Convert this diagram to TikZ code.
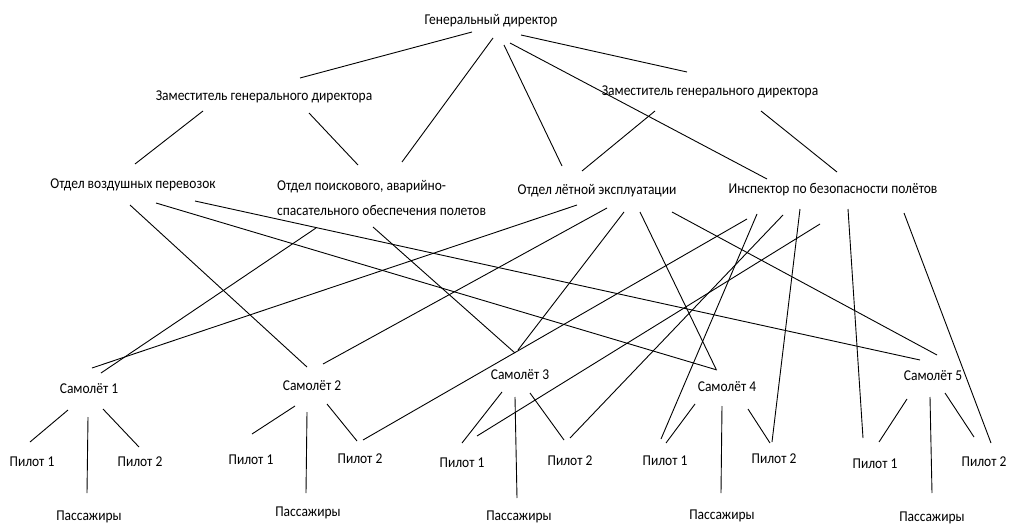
\documentclass[tikz,border=0pt]{standalone}
\usepackage{fontspec}
\setmainfont{Carlito}[FakeStretch=0.9]
\begin{document}
\begin{tikzpicture}[x=1pt,y=-1pt,
  lbl/.style={inner sep=0pt, font=\fontsize{15}{25}\selectfont},
  ln/.style={line width=0.9pt, black}]
\useasboundingbox (0,0) rectangle (1010,530);
% text nodes
\node[lbl] (gd) at (491,21) {Генеральный директор};
\node[lbl] (dep1) at (264,97) {Заместитель генерального директора};
\node[lbl] (dep2) at (710,92) {Заместитель генерального директора};
\node[lbl] (air) at (133,185) {Отдел воздушных перевозок};
\node[lbl, anchor=west, align=left] (srch) at (277,197.5) {Отдел поискового, аварийно-\\спасательного обеспечения полетов};
\node[lbl] (flt) at (597,191) {Отдел лётной эксплуатации};
\node[lbl] (insp) at (833,190) {Инспектор по безопасности полётов};
\node[lbl] (s1) at (89,389) {Самолёт 1};
\node[lbl] (s2) at (312,386) {Самолёт 2};
\node[lbl] (s3) at (520,375) {Самолёт 3};
\node[lbl] (s4) at (727,387) {Самолёт 4};
\node[lbl] (s5) at (933,376) {Самолёт 5};
\node[lbl] (p11) at (32,462) {Пилот 1};
\node[lbl] (p12) at (140,462) {Пилот 2};
\node[lbl] (p21) at (251,460) {Пилот 1};
\node[lbl] (p22) at (360,459) {Пилот 2};
\node[lbl] (p31) at (462,463) {Пилот 1};
\node[lbl] (p32) at (570,461) {Пилот 2};
\node[lbl] (p41) at (665,461) {Пилот 1};
\node[lbl] (p42) at (774,459) {Пилот 2};
\node[lbl] (p51) at (875,464) {Пилот 1};
\node[lbl] (p52) at (984,462) {Пилот 2};
\node[lbl] (ps1) at (89,517) {Пассажиры};
\node[lbl] (ps2) at (308,513) {Пассажиры};
\node[lbl] (ps3) at (519,517) {Пассажиры};
\node[lbl] (ps4) at (722,516) {Пассажиры};
\node[lbl] (ps5) at (932,518) {Пассажиры};
% connector end points
\foreach \n/\x/\y in {
  gdA/472/32, dAa/300/78, gdB/493/38, srB/402/162, gdC/504/45, flC/562/166,
  gdD/510/43, inD/767/179, gdE/521/35, dBe/687/72,
  dAf/203/111, arF/135/164, dAg/309/113, srG/358/165,
  dBh/655/111, flH/582/171, dBi/761/111, inI/837/172,
  arA/130/205, sA/307/367, arB/156/203, sB/717/370, arC/195/201, sC/920/360,
  srD/373/227, sD/515/353, srE/316/228, sE/101/373,
  flF/577/205, sF/92/368, flG/607/208, sG/323/364, flH2/624/212, sH/518/350,
  flI/640/212, sI/716/369, flJ/672/212, sJ/937/355,
  inK/747/219, pK/363/440, inL/757/214, pL/661/439, inM/783/215, pM/570/438,
  inN/820/224, pN/477/436, inO/800/209, pO/772/442, inP/848/209, pP/863/438,
  inQ/904/213, pQ/991/443,
  a1/68/410, a2/30/442, a3/88/417, a4/87/493, a5/103/409, a6/139/447,
  b1/295/406, b2/252/434, b3/307/412, b4/306/493, b5/327/404, b6/357/441,
  c1/502/392, c2/462/443, c3/515/397, c4/517/498, c5/530/393, c6/564/440,
  d1/695/404, d2/666/443, d3/722/406, d4/721/493, d5/748/409, d6/770/443,
  e1/907/399, e2/879/442, e3/930/397, e4/932/493, e5/945/393, e6/974/437}
  \coordinate (\n) at (\x,\y);
\foreach \a/\b in {gdA/dAa, gdB/srB, gdC/flC, gdD/inD, gdE/dBe,
  dAf/arF, dAg/srG, dBh/flH, dBi/inI,
  arA/sA, arB/sB, arC/sC, srD/sD, srE/sE, flF/sF, flG/sG, flH2/sH,
  flI/sI, flJ/sJ, inK/pK, inL/pL, inM/pM, inN/pN, inO/pO, inP/pP, inQ/pQ,
  a1/a2, a3/a4, a5/a6, b1/b2, b3/b4, b5/b6, c1/c2, c3/c4, c5/c6,
  d1/d2, d3/d4, d5/d6, e1/e2, e3/e4, e5/e6}
  \draw[ln] (\a) -- (\b);
\end{tikzpicture}
\end{document}
